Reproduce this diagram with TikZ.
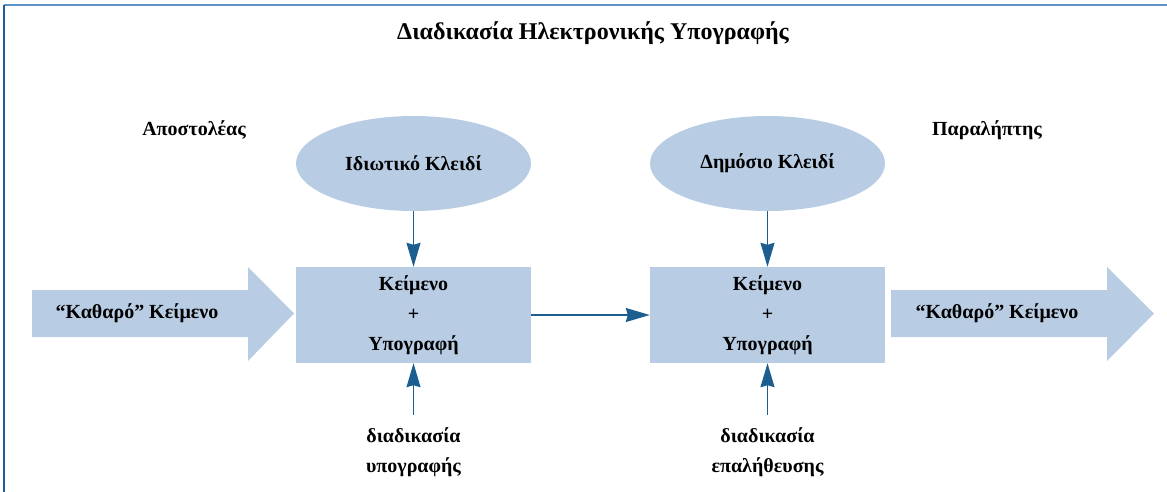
\documentclass[tikz,border=0pt]{standalone}
\usepackage{fontspec}
\setmainfont{Liberation Serif}
\usetikzlibrary{arrows.meta, shapes.geometric}

\definecolor{boxfill}{HTML}{B8CCE4}
\definecolor{linkblue}{HTML}{1D5E90}
\definecolor{frametop}{HTML}{5E94C4}
\definecolor{frameleft}{HTML}{1F5C9C}

\def\Lx{413.5}
\def\Rx{767.5}

\begin{document}
\begin{tikzpicture}[x=1pt, y=-1pt,
    every node/.style={font=\bfseries\fontsize{20}{30}\selectfont, align=center, inner sep=0pt},
    key/.style={ellipse, fill=boxfill, minimum width=235pt, minimum height=95pt},
    msg/.style={fill=boxfill, minimum width=235pt, minimum height=96pt},
    link/.style={draw=linkblue, line width=1.3pt, -{Stealth[length=24pt,width=14pt,inset=2pt]}}]
    \useasboundingbox (0,0) rectangle (1167,492);

    % frame
    \draw[frametop, line width=2pt] (4,5) -- (1167,5);
    \draw[frameleft, line width=2pt] (4,5) -- (4,492);

    \node[font=\bfseries\fontsize{24}{30}\selectfont] (title) at (593,33) {Διαδικασία Ηλεκτρονικής Υπογραφής};
    \node (sender) at (194,130) {Αποστολέας};
    \node (receiver) at (987,130) {Παραλήπτης};

    % big arrows
    \fill[boxfill] (32,290) -- (248,290) -- (248,267) -- (294,313.5) -- (248,361) -- (248,337) -- (32,337) -- cycle;
    \fill[boxfill] (891,290) -- (1107,290) -- (1107,267) -- (1154,313.5) -- (1107,361) -- (1107,337) -- (891,337) -- cycle;
    \node (plainA) at (137,313.5) {“Καθαρό” Κείμενο};
    \node (plainB) at (997,313.5) {“Καθαρό” Κείμενο};

    \node[key] (privkey) at (\Lx,163.5) {Ιδιωτικό Κλειδί};
    \node[key] (pubkey) at (\Rx,163.5) {Δημόσιο Κλειδί};

    \node[msg] (signed) at (\Lx,315) {Κείμενο\\+\\Υπογραφή};
    \node[msg] (received) at (\Rx,315) {Κείμενο\\+\\Υπογραφή};

    \node (signproc) at (\Lx,452) {διαδικασία\\υπογραφής};
    \node (verproc) at (\Rx,452) {διαδικασία\\επαλήθευσης};
    \coordinate (signfoot) at (\Lx,415);
    \coordinate (verfoot) at (\Rx,415);

    \draw[link] (privkey) -- (signed);
    \draw[link] (pubkey) -- (received);
    \draw[link] (signfoot) -- (signed.south);
    \draw[link] (verfoot) -- (received.south);
    \draw[link] (signed) -- (received);
\end{tikzpicture}
\end{document}
